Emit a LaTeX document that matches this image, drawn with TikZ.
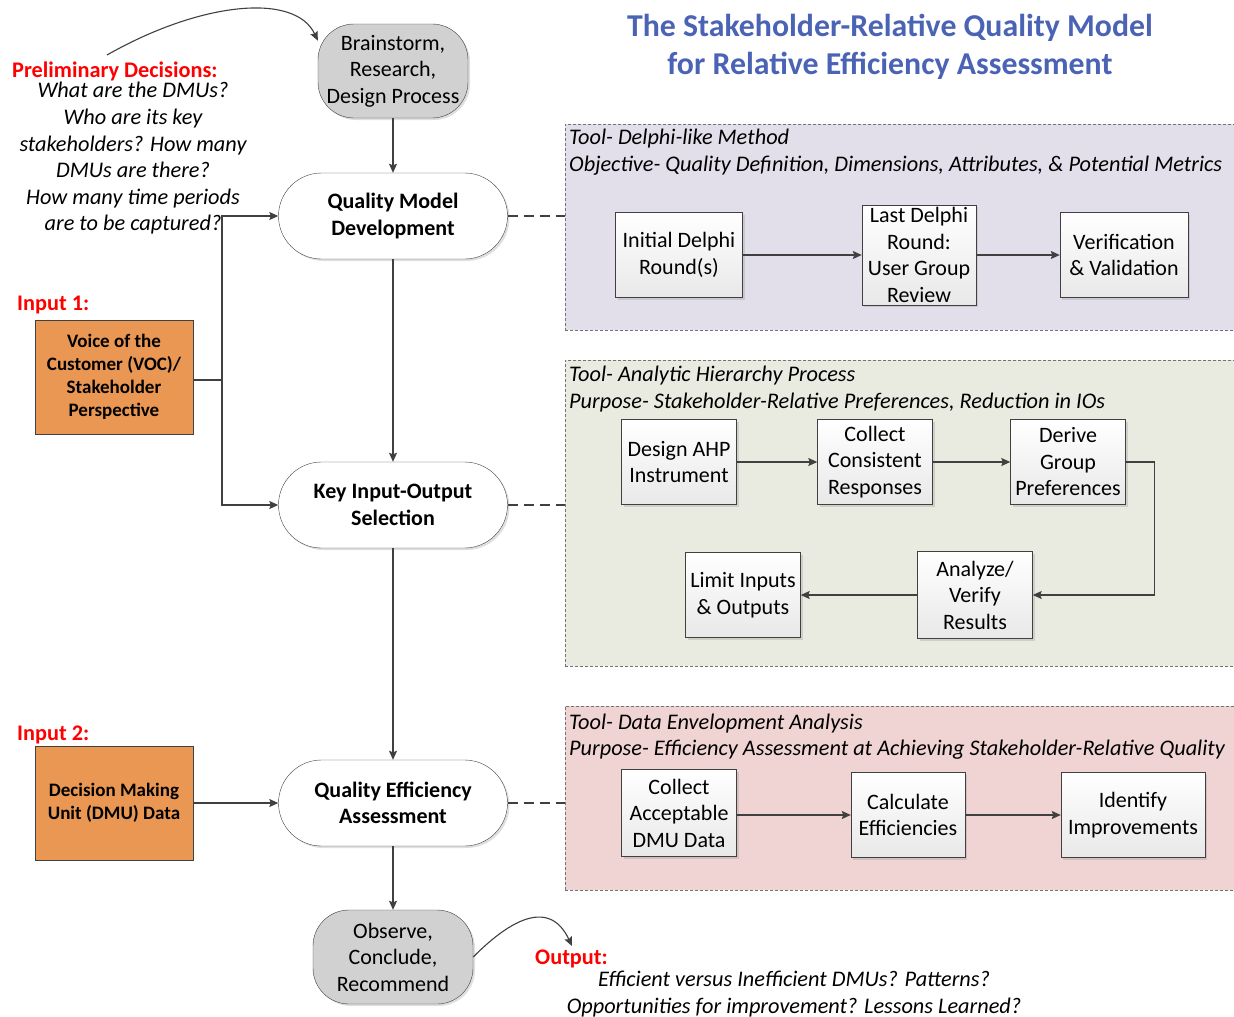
\documentclass[tikz,border=0pt]{standalone}
\usepackage{fontspec}
\setmainfont{Carlito}
\usetikzlibrary{arrows.meta,shadows}
\definecolor{titleblue}{HTML}{4A63B4}
\definecolor{linegray}{HTML}{404040}
\definecolor{vocorange}{HTML}{E99752}
\definecolor{delphibg}{HTML}{E2DFEB}
\definecolor{ahpbg}{HTML}{E9EBE0}
\definecolor{deabg}{HTML}{EFD4D3}
\newcommand{\bodysize}{\fontsize{22}{26.5}\selectfont}
\newcommand{\notesize}{\fontsize{22.3}{26.6}\selectfont}

\begin{document}
\begin{tikzpicture}[x=1pt, y=-1pt,
    arrow/.style={-{Stealth[length=9pt,width=8pt,inset=1.5pt]}, draw=linegray, line width=1.1pt},
    link/.style={draw=linegray, line width=1.1pt, dash pattern=on 10pt off 6pt},
    phase/.style={draw=linegray, fill=white, rounded corners=43pt, minimum width=229pt, minimum height=86pt,
        align=center, inner sep=2pt, font=\bodysize\bfseries,
        drop shadow={shadow xshift=2pt, shadow yshift=-2pt, opacity=.25}},
    endpoint/.style={phase, fill=black!18, rounded corners=36pt, font=\bodysize},
    stepbox/.style={draw=linegray, top color=white, bottom color=black!9, minimum width=115pt, minimum height=85pt,
        align=center, inner sep=2pt, font=\bodysize,
        drop shadow={shadow xshift=2pt, shadow yshift=-2pt, opacity=.25}},
    panel/.style={draw=black!55, densely dashed, line width=.6pt, anchor=north west, inner sep=0pt},
    inputbox/.style={draw=linegray, fill=vocorange, minimum width=158pt, minimum height=114pt,
        align=center, inner sep=2pt, font=\fontsize{19}{23}\selectfont\bfseries},
    redlabel/.style={text=red, anchor=west, inner sep=0pt, font=\notesize\bfseries},
    note/.style={align=center, inner sep=0pt, font=\notesize\itshape},
    heading/.style={anchor=west, inner sep=0pt, font=\notesize\itshape}
]
\useasboundingbox (0,0) rectangle (1234,1017);

% title
\node[text=titleblue, align=center, font=\fontsize{31.8}{38}\selectfont\bfseries] (title) at (890,47)
    {The Stakeholder-Relative Quality Model\\for Relative Efficiency Assessment};

% tool panels
\node[panel, fill=delphibg, minimum width=680pt, minimum height=206pt] (delphi) at (565,124) {};
\node[panel, fill=ahpbg, minimum width=680pt, minimum height=306pt] (ahp) at (565,360) {};
\node[panel, fill=deabg, minimum width=680pt, minimum height=184pt] (dea) at (565,706) {};

\node[heading] (delphiA) at (569,139) {Tool- Delphi-like Method};
\node[heading] (delphiB) at (569,166) {Objective- Quality Definition, Dimensions, Attributes, \& Potential Metrics};
\node[heading] (ahpA) at (569,376) {Tool- Analytic Hierarchy Process};
\node[heading] (ahpB) at (569,403) {Purpose- Stakeholder-Relative Preferences, Reduction in IOs};
\node[heading] (deaA) at (569,724) {Tool- Data Envelopment Analysis};
\node[heading] (deaB) at (569,750) {Purpose- Efficiency Assessment at Achieving Stakeholder-Relative Quality};

% main flow
\node[endpoint, minimum width=150pt, minimum height=94pt] (brain) at (393,71) {Brainstorm,\\Research,\\Design Process};
\node[phase] (qmd) at (393,216) {Quality Model\\Development};
\node[phase] (kio) at (393,505) {Key Input-Output\\Selection};
\node[phase] (qea) at (393,803) {Quality Efficiency\\Assessment};
\node[endpoint, minimum width=160pt, minimum height=94pt] (observe) at (393,957) {Observe,\\Conclude,\\Recommend};

\draw[arrow] (brain) -- (qmd);
\draw[arrow] (qmd) -- (kio);
\draw[arrow] (kio) -- (qea);
\draw[arrow] (qea) -- (observe);

% inputs
\node[redlabel] (prelim) at (12,71) {Preliminary Decisions:};
\node[note] (questions) at (133,158.5) {What are the DMUs?\\Who are its key\\stakeholders? How many\\DMUs are there?\\How many time periods\\are to be captured?};
\node[redlabel] (in1) at (17,305) {Input 1:};
\node[inputbox] (voc) at (114,377) {Voice of the\\Customer (VOC)/\\Stakeholder\\Perspective};
\node[redlabel] (in2) at (17,735) {Input 2:};
\node[inputbox] (dmu) at (114,803) {Decision Making\\Unit (DMU) Data};

\coordinate (prelimtail) at (107,55);
\draw[arrow] (prelimtail) .. controls (200,2) and (295,-8) .. (brain.158);
\draw[draw=linegray, line width=1.1pt] (voc.east |- 0,380) -- (222,380) coordinate (junc);
\draw[arrow] (junc) |- (qmd.west);
\draw[arrow] (junc) |- (kio.west);
\draw[arrow] (dmu) -- (qea);

% links to the tools
\draw[link] (qmd.east) -- (qmd.east -| delphi.west);
\draw[link] (kio.east) -- (kio.east -| ahp.west);
\draw[link] (qea.east) -- (qea.east -| dea.west);

% Delphi steps
\node[stepbox, minimum width=127pt] (initial) at (679,255) {Initial Delphi\\Round(s)};
\node[stepbox, minimum width=114pt, minimum height=100pt] (last) at (919,255) {Last Delphi\\Round:\\User Group\\Review};
\node[stepbox, minimum width=128pt] (verify) at (1124,255) {Verification\\\& Validation};
\draw[arrow] (initial) -- (last);
\draw[arrow] (last) -- (verify);

% AHP steps
\node[stepbox] (design) at (679,462) {Design AHP\\Instrument};
\node[stepbox] (collect) at (875,462) {Collect\\Consistent\\Responses};
\node[stepbox] (derive) at (1068,462) {Derive\\Group\\Preferences};
\node[stepbox, minimum height=87pt] (analyze) at (975,595) {Analyze/\\Verify\\Results};
\node[stepbox] (limit) at (743,595) {Limit Inputs\\\& Outputs};
\draw[arrow] (design) -- (collect);
\draw[arrow] (collect) -- (derive);
\draw[arrow] (derive.east) -- ++(29,0) |- (analyze.east);
\draw[arrow] (analyze) -- (limit);

% DEA steps
\node[stepbox, minimum height=87pt] (acquire) at (679,813) {Collect\\Acceptable\\DMU Data};
\node[stepbox, minimum width=114pt] (calc) at (908,815) {Calculate\\Efficiencies};
\node[stepbox, minimum width=144pt] (improve) at (1133,815) {Identify\\Improvements};
\draw[arrow] (acquire.east |- calc.west) -- (calc.west);
\draw[arrow] (calc) -- (improve);

% output
\node[redlabel] (out) at (535,959) {Output:};
\node[note] (answers) at (794,994) {Efficient versus Inefficient DMUs? Patterns?\\Opportunities for improvement? Lessons Learned?};
\coordinate (outhead) at (572,946);
\draw[arrow] (observe.east) .. controls (505,925) and (548,895) .. (outhead);

\end{tikzpicture}
\end{document}
